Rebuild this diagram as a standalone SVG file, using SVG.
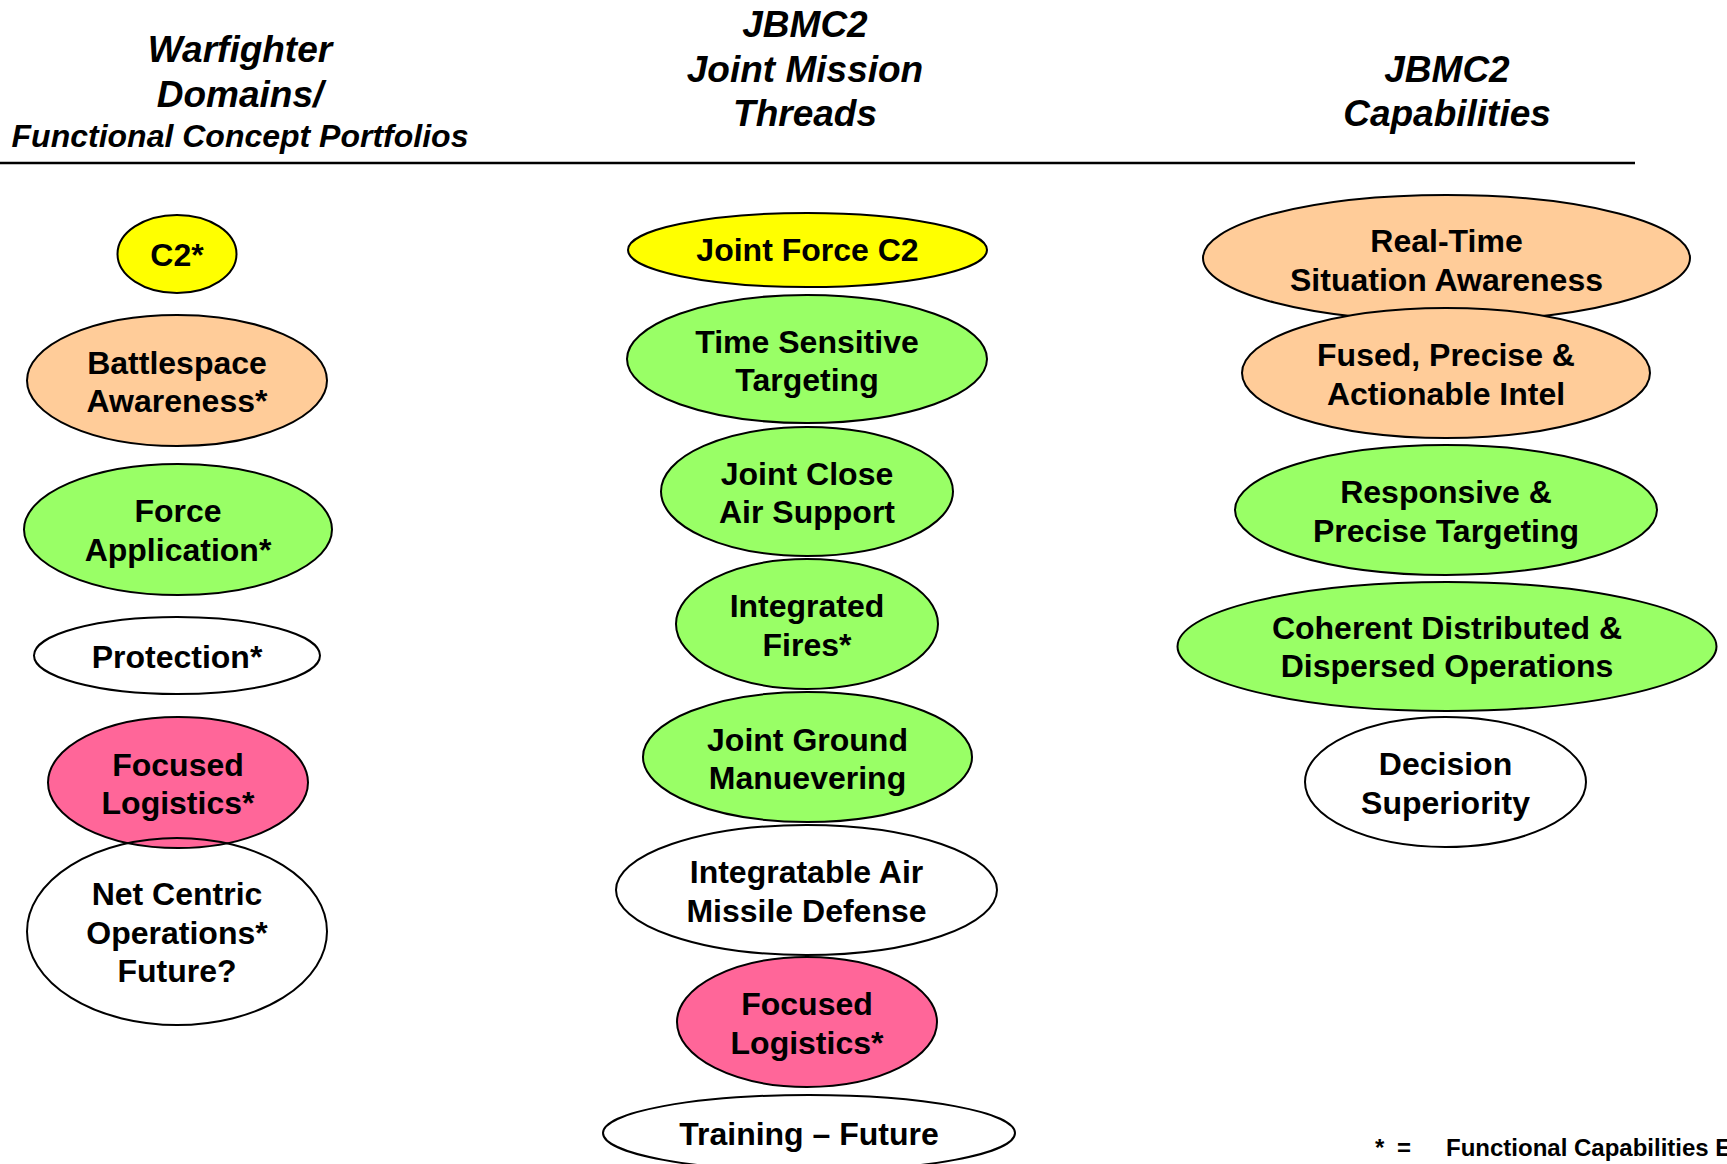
<svg xmlns="http://www.w3.org/2000/svg" width="1727" height="1164" viewBox="0 0 1727 1164">
<style>
  .hd { font-family: "Liberation Sans", Arial, sans-serif; font-weight: bold; font-style: italic; font-size: 37px; fill: #000; text-anchor: middle; }
  .hds { font-size: 32px; }
  .n { stroke: #000; stroke-width: 2; }
  .t { font-family: "Liberation Sans", Arial, sans-serif; font-weight: bold; font-size: 32px; fill: #000; text-anchor: middle; }
  .yel { fill: #FFFF00; }
  .pch { fill: #FFCC99; }
  .grn { fill: #99FF66; }
  .pnk { fill: #FF6699; }
  .wht { fill: #FFFFFF; }
  .non { fill: none; }
  .fn { font-family: "Liberation Sans", Arial, sans-serif; font-weight: bold; font-size: 24px; fill: #000; }
</style>
<rect width="1727" height="1164" fill="#FFFFFF"/>

<g id="headers">
  <text class="hd" x="240" y="62">Warfighter</text>
  <text class="hd" x="240" y="107">Domains/</text>
  <text class="hd hds" x="240" y="147">Functional Concept Portfolios</text>
  <text class="hd" x="805" y="37">JBMC2</text>
  <text class="hd" x="805" y="82">Joint Mission</text>
  <text class="hd" x="805" y="126">Threads</text>
  <text class="hd" x="1447" y="82">JBMC2</text>
  <text class="hd" x="1447" y="126">Capabilities</text>
  <line x1="0" y1="163" x2="1635" y2="163" stroke="#000" stroke-width="2.5"/>
</g>

<g id="connectors"></g>

<!-- Left column -->
<g id="wd-c2">
  <ellipse class="n yel" cx="177" cy="254" rx="59.5" ry="39"/>
  <text class="t" x="177" y="265.5">C2*</text>
</g>
<g id="wd-battlespace">
  <ellipse class="n pch" cx="177" cy="380.5" rx="150" ry="65.5"/>
  <text class="t" x="177" y="373.5">Battlespace</text>
  <text class="t" x="177" y="412">Awareness*</text>
</g>
<g id="wd-force">
  <ellipse class="n grn" cx="178" cy="529.5" rx="154" ry="65.5"/>
  <text class="t" x="178" y="522">Force</text>
  <text class="t" x="178" y="560.5">Application*</text>
</g>
<g id="wd-protection">
  <ellipse class="n wht" cx="177" cy="655.5" rx="143" ry="38.5"/>
  <text class="t" x="177" y="667.5">Protection*</text>
</g>
<g id="wd-logistics">
  <ellipse class="n pnk" cx="178" cy="782.5" rx="130" ry="65.5"/>
  <text class="t" x="178" y="775.5">Focused</text>
  <text class="t" x="178" y="814">Logistics*</text>
</g>
<g id="wd-netcentric">
  <ellipse class="n non" cx="177" cy="931.5" rx="150" ry="93.5"/>
  <text class="t" x="177" y="905">Net Centric</text>
  <text class="t" x="177" y="943.5">Operations*</text>
  <text class="t" x="177" y="982">Future?</text>
</g>

<!-- Middle column -->
<g id="mt-jfc2">
  <ellipse class="n yel" cx="807.5" cy="250" rx="179.5" ry="37"/>
  <text class="t" x="807.5" y="261">Joint Force C2</text>
</g>
<g id="mt-tst">
  <ellipse class="n grn" cx="807" cy="359" rx="180" ry="64"/>
  <text class="t" x="807" y="352.5">Time Sensitive</text>
  <text class="t" x="807" y="391">Targeting</text>
</g>
<g id="mt-jcas">
  <ellipse class="n grn" cx="807" cy="491.5" rx="146" ry="64.5"/>
  <text class="t" x="807" y="484.5">Joint Close</text>
  <text class="t" x="807" y="523">Air Support</text>
</g>
<g id="mt-fires">
  <ellipse class="n grn" cx="807" cy="624" rx="131" ry="65"/>
  <text class="t" x="807" y="617">Integrated</text>
  <text class="t" x="807" y="655.5">Fires*</text>
</g>
<g id="mt-jgm">
  <ellipse class="n grn" cx="807.5" cy="757" rx="164.5" ry="65"/>
  <text class="t" x="807.5" y="750.5">Joint Ground</text>
  <text class="t" x="807.5" y="789">Manuevering</text>
</g>
<g id="mt-iamd">
  <ellipse class="n wht" cx="806.5" cy="890" rx="190.5" ry="65"/>
  <text class="t" x="806.5" y="883">Integratable Air</text>
  <text class="t" x="806.5" y="921.5">Missile Defense</text>
</g>
<g id="mt-logistics">
  <ellipse class="n pnk" cx="807" cy="1022" rx="130" ry="65"/>
  <text class="t" x="807" y="1015">Focused</text>
  <text class="t" x="807" y="1053.5">Logistics*</text>
</g>
<g id="mt-training">
  <ellipse class="n wht" cx="809" cy="1133" rx="206" ry="38"/>
  <text class="t" x="809" y="1144.5">Training – Future</text>
</g>

<!-- Right column -->
<g id="cap-rtsa">
  <ellipse class="n pch" cx="1446.5" cy="258" rx="243.5" ry="63"/>
  <text class="t" x="1446.5" y="252">Real-Time</text>
  <text class="t" x="1446.5" y="290.5">Situation Awareness</text>
</g>
<g id="cap-fused">
  <ellipse class="n pch" cx="1446" cy="373" rx="204" ry="65"/>
  <text class="t" x="1446" y="366">Fused, Precise &amp;</text>
  <text class="t" x="1446" y="404.5">Actionable Intel</text>
</g>
<g id="cap-rpt">
  <ellipse class="n grn" cx="1446" cy="510" rx="211" ry="65"/>
  <text class="t" x="1446" y="503">Responsive &amp;</text>
  <text class="t" x="1446" y="541.5">Precise Targeting</text>
</g>
<g id="cap-cdo">
  <ellipse class="n grn" cx="1447" cy="646.5" rx="269.5" ry="64.5"/>
  <text class="t" x="1447" y="638.5">Coherent Distributed &amp;</text>
  <text class="t" x="1447" y="677">Dispersed Operations</text>
</g>
<g id="cap-ds">
  <ellipse class="n wht" cx="1445.5" cy="782" rx="140.5" ry="65"/>
  <text class="t" x="1445.5" y="775">Decision</text>
  <text class="t" x="1445.5" y="813.5">Superiority</text>
</g>

<g id="footnote">
  <text class="fn" x="1375" y="1156">*</text>
  <text class="fn" x="1397" y="1156">=</text>
  <text class="fn" x="1446" y="1156">Functional Capabilities E</text>
</g>
</svg>
